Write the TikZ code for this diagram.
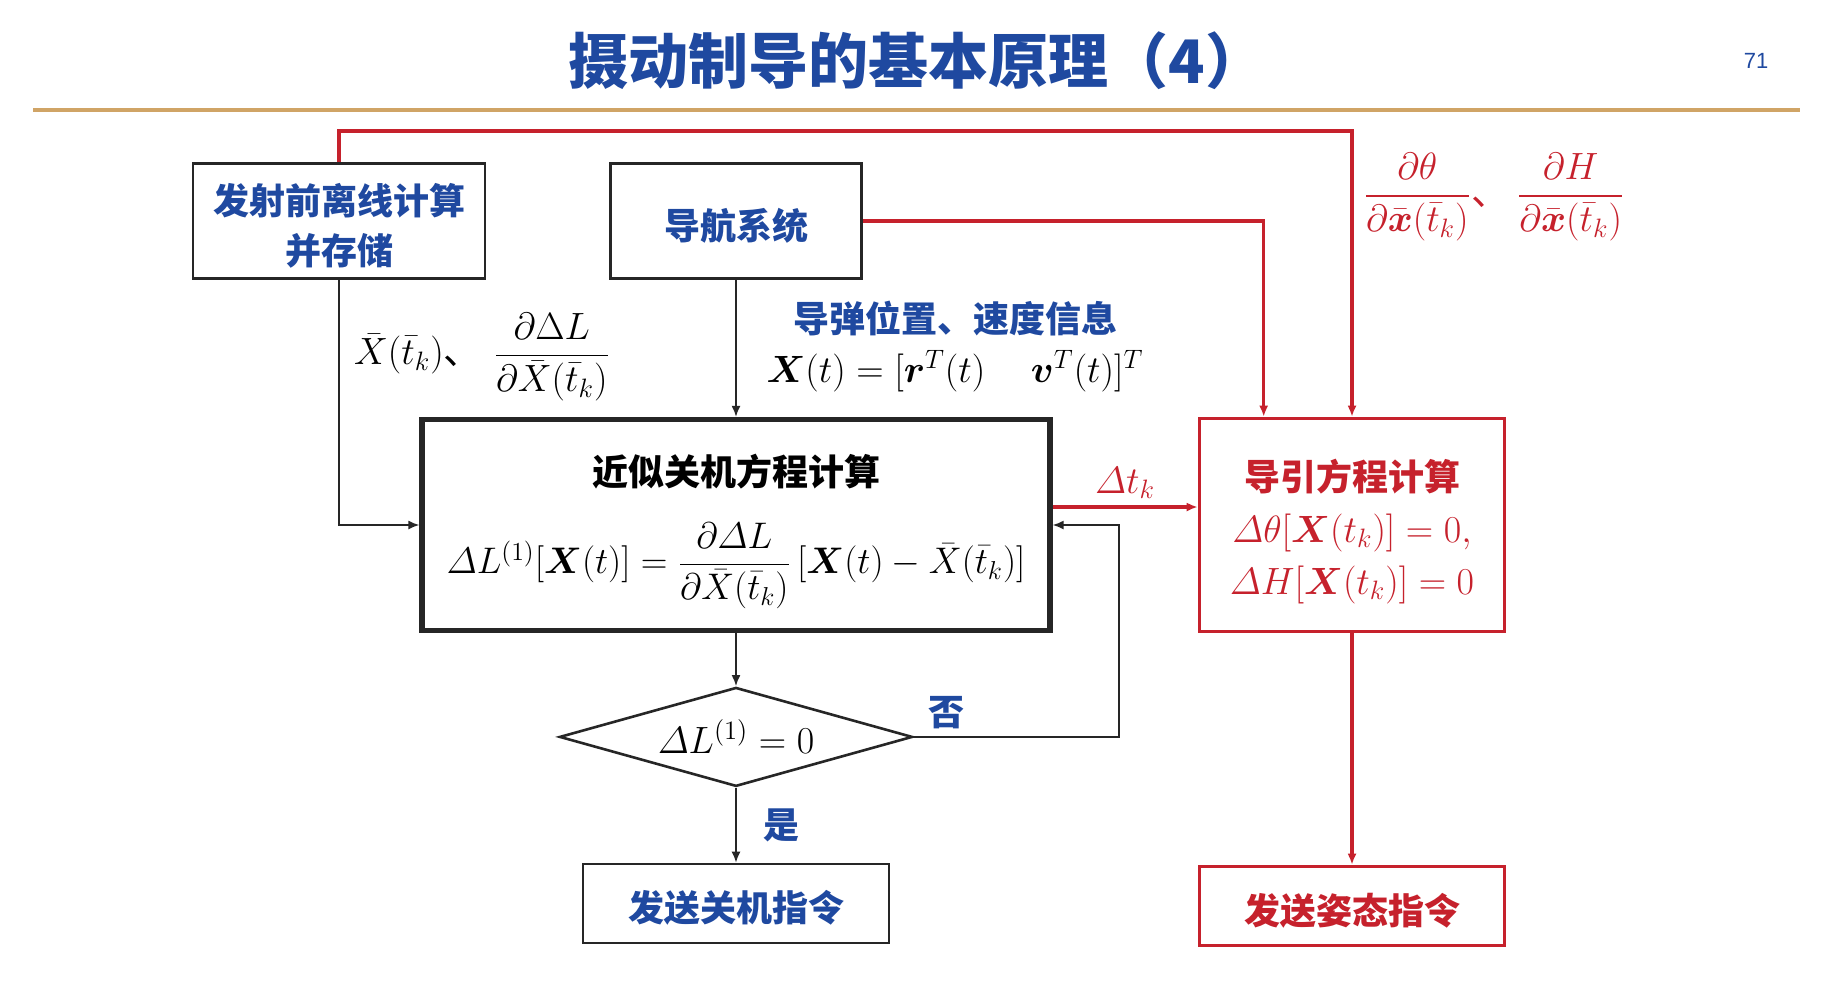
\RequirePackage{fix-cm}
\documentclass[tikz,border=0pt]{standalone}
\usepackage{amsmath}
\usepackage{amssymb}
\usepackage{fontspec}
\setsansfont{Liberation Sans}
\newfontfamily\cjk{Noto Sans CJK SC}
\usepackage{xcolor}
\usepackage{tikz}
\usetikzlibrary{shapes.geometric, positioning, arrows.meta, calc}

\definecolor{titleblue}{RGB}{31,73,160}
\definecolor{guidered}{RGB}{198,33,44}
\definecolor{rulegold}{RGB}{208,164,102}
\definecolor{linegray}{RGB}{38,38,38}
\newcommand{\upstrut}[1][20pt]{\rule{0pt}{#1}}

\begin{document}
\begin{tikzpicture}[
            x=0.5pt, y=0.5pt,
            >={Latex[length=5.5pt,width=4.5pt]},
            box/.style={draw=linegray, line width=1.3pt, align=center, text=titleblue,
                font=\cjk\bfseries\fontsize{18}{25}\selectfont},
            redbox/.style={draw=guidered, line width=1.8pt, align=center, text=guidered},
            mathtxt/.style={font=\fontsize{19}{24}\selectfont},
            cjklabel/.style={font=\cjk\bfseries\fontsize{18}{24}\selectfont, text=titleblue},
            link/.style={->, draw=linegray, line width=0.9pt},
            redlink/.style={->, draw=guidered, line width=1.6pt}
        ]
        \fill[white] (0,0) rectangle (1836,-998);
        \useasboundingbox (0,0) rectangle (1836,-998);

        % --- Titulo ---
        \node[font=\cjk\bfseries\fontsize{30}{35}\selectfont, text=titleblue] (title) at (917,-61) {摄动制导的基本原理（4）};
        \node[font=\sffamily\fontsize{11}{13}\selectfont, text=titleblue] (pageno) at (1756,-61) {71};
        \draw[rulegold, line width=2pt] (33,-110) -- (1800,-110);

        % --- Fila superior ---
        \node[box, minimum width=146pt, minimum height=57.5pt] (offline) at (339,-221) {\upstrut 发射前离线计算\\并存储};
        \node[box, minimum width=125.5pt, minimum height=57.5pt] (nav) at (736,-221) {\upstrut 导航系统};

        % --- Calculo de la ecuacion de corte ---
        \node[box, line width=2.6pt, minimum width=314pt, minimum height=105.5pt, text=black,
            font=\fontsize{18.5}{24}\selectfont] (cutoff) at (736,-525)
        {{\cjk\bfseries\fontsize{18}{24}\selectfont \upstrut[22pt]近似关机方程计算}\\[16pt]
        $\varDelta L^{(1)}[\boldsymbol{X}(t)] = \dfrac{\partial\varDelta L}{\partial\bar{X}(\bar{t}_k)}\,[\boldsymbol{X}(t)-\bar{X}(\bar{t}_k)]$};

        % --- Calculo de guiado ---
        \node[redbox, minimum width=152.5pt, minimum height=106.5pt, font=\fontsize{19}{26}\selectfont] (guide) at (1352,-525)
        {{\cjk\bfseries\fontsize{18}{26}\selectfont \upstrut[22pt]导引方程计算}\\
        $\varDelta\theta[\boldsymbol{X}(t_k)] = 0,$\\
        $\varDelta H[\boldsymbol{X}(t_k)] = 0$};

        % --- Decision y ordenes ---
        \node[diamond, draw=linegray, line width=1.3pt, aspect=3.57, inner sep=0pt,
            minimum width=176.5pt, minimum height=49.5pt, mathtxt, below=26.5pt of cutoff] (check) {$\varDelta L^{(1)} = 0$};
        \node[box, minimum width=153pt, minimum height=39.5pt, below=37.5pt of check] (offcmd) {\upstrut 发送关机指令};
        \node[redbox, font=\cjk\bfseries\fontsize{18}{25}\selectfont, minimum width=152.5pt, minimum height=39.5pt] (attcmd) at (1352,-906) {\upstrut 发送姿态指令};

        % --- Etiquetas ---
        \node[mathtxt] (preset) at (482,-357) {$\bar{X}(\bar{t}_k)${\cjk 、}\hspace{6pt}$\dfrac{\partial\Delta L}{\partial\bar{X}(\bar{t}_k)}$};
        \node[cjklabel] (navinfo) at (955,-319) {导弹位置、速度信息};
        \node[mathtxt] (navstate) at (955,-371) {$\boldsymbol{X}(t) = [\boldsymbol{r}^T(t) \hspace{1.2em} \boldsymbol{v}^T(t)]^T$};
        \node[mathtxt, text=guidered] (partials) at (1494,-197)
        {$\dfrac{\partial\theta}{\partial\bar{\boldsymbol{x}}(\bar{t}_k)}${\cjk 、}\hspace{4pt}$\dfrac{\partial H}{\partial\bar{\boldsymbol{x}}(\bar{t}_k)}$};

        % --- Flechas ---
        \coordinate (toprail) at (0,-131);
        \coordinate (loopback) at (1119,0);
        \draw[redlink] (offline.north) -- (offline.north |- toprail) -| (guide.north);
        \draw[redlink] (nav.east) -| ($(guide.north west)+(66,0)$);
        \draw[link] (offline.south) |- (cutoff.west);
        \draw[link] (nav.south) -- (cutoff.north);
        \draw[redlink] ([yshift=9pt]cutoff.east) -- ([yshift=9pt]cutoff.east -| guide.west)
            node[midway, above, mathtxt, text=guidered] (dtlabel) {$\varDelta t_k$};
        \draw[link] (cutoff.south) -- (check.north);
        \draw[link] (check.east) -- node[pos=0.16, above, cjklabel] (nolabel) {否} (check.east -| loopback) |- (cutoff.east);
        \draw[link] (check.south) -- node[right, xshift=10pt, cjklabel] (yeslabel) {是} (offcmd.north);
        \draw[redlink] (guide.south) -- (attcmd.north);

        \end{tikzpicture}
\end{document}
